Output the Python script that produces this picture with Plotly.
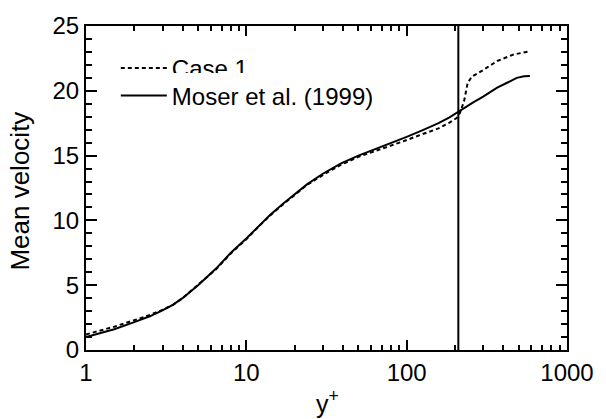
import plotly.graph_objects as go

# Moser et al. (1999) reference profile
yplus_moser = [1, 1.5, 2, 2.5, 3, 3.5, 4, 5, 6.5, 8, 10, 12, 14, 17, 20, 24, 30, 39, 50,
               62, 80, 100, 125, 158, 185, 210, 260, 300, 367, 420, 486, 540, 587]
u_moser = [1.0, 1.6, 2.15, 2.6, 3.05, 3.5, 4.0, 5.0, 6.3, 7.5, 8.6, 9.6, 10.4, 11.3, 12.0,
           12.8, 13.6, 14.4, 15.0, 15.45, 15.95, 16.45, 16.95, 17.5, 17.95, 18.4, 19.1,
           19.55, 20.25, 20.6, 21.0, 21.12, 21.15]

# Case 1
yplus_case1 = [1, 1.5, 2, 2.5, 3, 3.5, 4, 5, 6.5, 8, 10, 12, 14, 17, 20, 24, 30, 39, 50,
               62, 80, 100, 125, 158, 185, 205, 215, 228, 240, 255, 300, 367, 464, 587]
u_case1 = [1.2, 1.8, 2.3, 2.7, 3.1, 3.5, 4.0, 5.0, 6.25, 7.45, 8.55, 9.55, 10.35, 11.25,
           11.95, 12.75, 13.5, 14.3, 14.9, 15.3, 15.75, 16.2, 16.65, 17.1, 17.55, 17.9,
           18.3, 19.2, 20.6, 21.1, 21.6, 22.3, 22.8, 23.05]

# vertical marker line
vline_x = 210
y_range = [0, 25]
x_ticks = [1, 10, 100, 1000]
x_minor = [m * d for d in (1, 10, 100) for m in range(2, 10)]

x_title = "y<sup>+</sup>"
y_title = "Mean velocity"

ink = "black"
font = "Liberation Sans"

fig = go.Figure()
fig.add_trace(go.Scatter(x=yplus_case1, y=u_case1, mode="lines", name="Case 1",
                         legend="legend",
                         line=dict(color=ink, width=2, dash="4px,3px")))
fig.add_trace(go.Scatter(x=yplus_moser, y=u_moser, mode="lines", name="Moser et al. (1999)",
                         legend="legend2",
                         line=dict(color=ink, width=2)))
fig.add_trace(go.Scatter(x=[vline_x, vline_x], y=y_range, mode="lines", showlegend=False,
                         line=dict(color=ink, width=2), hoverinfo="skip"))

fig.update_layout(
    width=606, height=419,
    margin=dict(l=86, r=29, t=21, b=69),
    plot_bgcolor="white",
    font=dict(family=font, size=24),
    legend=dict(x=0.062, y=(350 - 64) / 329, yanchor="middle", itemwidth=46,
                font=dict(color=ink)),
    legend2=dict(x=0.062, y=(350 - 92) / 329, yanchor="middle", itemwidth=46,
                 font=dict(color=ink)),
    annotations=[
        dict(text=x_title, xref="paper", yref="paper", x=0.502, y=(350 - 403) / 329,
             xanchor="center", yanchor="middle", showarrow=False,
             font=dict(size=25, color=ink)),
        dict(text=y_title, xref="paper", yref="paper", x=-(86 - 19) / 491, y=0.49,
             xanchor="center", yanchor="middle", textangle=-90, showarrow=False,
             font=dict(size=26, color=ink)),
    ],
)
fig.update_xaxes(
    type="log", range=[0, 3], tickvals=x_ticks,
    ticks="inside", ticklen=10, tickwidth=2, tickcolor=ink,
    showline=True, linewidth=2, linecolor=ink, mirror="allticks",
    showgrid=False, tickfont=dict(color=ink),
    minor=dict(tickmode="array", tickvals=x_minor, ticks="inside", ticklen=5,
               tickwidth=2, tickcolor=ink),
)
fig.update_yaxes(
    range=y_range, dtick=5,
    ticks="inside", ticklen=11, tickwidth=2, tickcolor=ink,
    showline=True, linewidth=2, linecolor=ink, mirror="allticks",
    showgrid=False, tickfont=dict(color=ink),
    minor=dict(ticks="inside", ticklen=6, dtick=1, tickwidth=2, tickcolor=ink),
)

fig.write_html("out.html")
